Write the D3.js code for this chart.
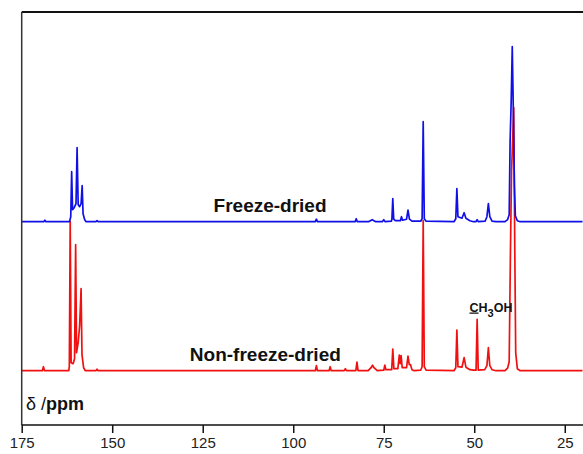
<!DOCTYPE html>
<html><head><meta charset="utf-8">
<script src="https://cdn.jsdelivr.net/npm/d3@7"></script>
<style>body{margin:0;background:#fff}svg{display:block}text{font-family:"Liberation Sans",Arial,sans-serif}</style>
</head><body><svg id="c" width="583" height="454"></svg>
<script>
// x: chemical shift (ppm); y: intensity (arbitrary units)
const xTicks = [175, 150, 125, 100, 75, 50, 25];
const xDomain = [175, 20.1];
const seriesNames = ["Freeze-dried", "Non-freeze-dried"];
const blueOffset = 149;
const freezeDried = [
 [176,0],[168.9,0],[168.6,1.5],[168.3,0],
 [161.8,0],[161.45,5],[161.2,50],[160.95,12],[160.5,14],[160.0,18],[159.7,74],[159.4,17],[159.0,15],[158.6,18],[158.3,36],[158.05,8],[157.6,2],[157.2,0],
 [154.5,0],[154.2,1],[153.9,0],
 [93.9,0],[93.6,2.5],[93.3,0],
 [82.9,0],[82.6,3],[82.3,0],
 [79.2,0],[78.2,2],[77.2,0],
 [75.4,0],[75,2],[74.6,0],
 [72.9,0.5],[72.75,2.5],[72.5,23],[72.25,2.5],[71.8,1],[70.4,1],[70.1,5],[69.8,1.5],[68.7,2.5],[68.3,11.5],[67.9,2.5],[67.2,0.5],
 [64.8,0.5],[64.4,3],[64.1,100],[63.8,3],[63.3,0.5],
 [55.6,0],[55.1,3],[54.8,33],[54.5,5],[53.4,3.5],[52.8,9],[52.3,3.5],[51.2,1],[50.2,0],
 [49.5,0],[49.2,2],[48.9,0],
 [47,0.5],[46.5,5],[46.1,18],[45.7,5],[45.1,0.5],[44,0],
 [41.5,0],[40.8,2],[40.35,7],[40.1,80],[39.8,120],[39.5,175],[39.2,110],[38.9,35],[38.65,6],[38.1,1],[37.3,0],
 [19,0]
];
const nonFreezeDried = [
 [176,0],[169.3,0],[169,4],[168.7,0],
 [162.0,0],[161.85,4],[161.6,149],[161.35,8],[160.8,7],[160.4,12],[160.1,126],[159.85,18],[159.4,28],[159.0,45],[158.6,82],[158.35,16],[157.9,3],[157.4,0],
 [154.5,0],[154.2,1.5],[153.9,0],
 [93.9,0],[93.6,5],[93.3,0],
 [90.1,0],[89.8,4],[89.5,0],
 [85.9,0],[85.6,2],[85.3,0],
 [82.7,0],[82.4,8.5],[82.1,0],
 [79.3,0],[78.5,3],[78.1,5.5],[77.7,3],[76.8,0],
 [75.0,0.5],[74.7,5.5],[74.4,1],
 [72.8,1],[72.5,21.7],[72.2,2],[71.1,2],[70.7,15.7],[70.45,7],[70.2,15],[69.9,3],[68.7,3],[68.3,14.7],[67.95,6],[67.6,6],[67.2,1],[66.6,0],
 [64.8,0.5],[64.4,4],[64.1,150],[63.8,4],[63.3,0.5],
 [55.6,0],[55.1,3],[54.8,40.7],[54.5,4],[53.4,3.5],[52.8,13],[52.3,3.5],[51.2,1],[50.2,0.5],
 [49.5,0.5],[49.2,51.4],[48.9,0.5],
 [47.1,1],[46.5,5],[46.1,23],[45.7,5],[45.1,1],[44,0],
 [41.5,0],[40.8,2.5],[40.35,9],[40.0,119],[39.7,200],[39.4,230],[39.1,263],[38.8,120],[38.55,18],[38.1,2],[37.3,0],
 [19,0]
];

const svg = d3.select("#c");
const L = 21.7, R = 582.5, T = 12, B = 425;
const x = d3.scaleLinear().domain(xDomain).range([L, R]);
const y = d3.scaleLinear().domain([0, 359]).range([370.7, 11.7]);

svg.append("defs").append("clipPath").attr("id","clip")
  .append("rect").attr("x",L).attr("y",T).attr("width",R-L).attr("height",B-T);

const g = svg.append("g").attr("clip-path","url(#clip)");
const lineRed = d3.line().x(d=>x(d[0])).y(d=>y(d[1]));
const lineBlue = d3.line().x(d=>x(d[0])).y(d=>y(d[1]+blueOffset));
g.append("path").datum(nonFreezeDried).attr("d",lineRed)
  .attr("fill","none").attr("stroke","#f01010").attr("stroke-width",1.7).attr("stroke-linejoin","round");
g.append("path").datum(freezeDried).attr("d",lineBlue)
  .attr("fill","none").attr("stroke","#1010e6").attr("stroke-width",1.7).attr("stroke-linejoin","round");

// frame
svg.append("line").attr("x1",L).attr("x2",583).attr("y1",T).attr("y2",T).attr("stroke","#111").attr("stroke-width",2);
svg.append("line").attr("x1",L).attr("x2",L).attr("y1",T).attr("y2",B).attr("stroke","#333").attr("stroke-width",1.5);

// x axis
const ax = svg.append("g").attr("transform",`translate(0,${B})`)
  .call(d3.axisBottom(x).tickValues(xTicks).tickSize(8).tickPadding(4).tickSizeOuter(0));
ax.select(".domain").attr("stroke","#111").attr("stroke-width",1.7).attr("d",`M${L},0H583`);
ax.selectAll(".tick line").attr("stroke","#111").attr("stroke-width",1.5);
ax.selectAll(".tick text").attr("font-size",15).attr("fill","#222").attr("font-family","Liberation Sans, Arial, sans-serif");

// labels (positions in ppm)
svg.append("text").attr("x",x(106.4)).attr("y",211.5).attr("text-anchor","middle")
  .attr("font-size",19).attr("font-weight","bold").attr("fill","#111").text(seriesNames[0]);
svg.append("text").attr("x",x(107.7)).attr("y",360.5).attr("text-anchor","middle")
  .attr("font-size",19).attr("font-weight","bold").attr("fill","#111").text(seriesNames[1]);

const ch = svg.append("text").attr("x",x(51.3)).attr("y",311.5).attr("font-size",12.5).attr("font-weight","bold").attr("fill","#111");
ch.append("tspan").attr("text-decoration","underline").text("C");
ch.append("tspan").text("H");
ch.append("tspan").attr("font-size",11).attr("dy",5).text("3");
ch.append("tspan").attr("dy",-5).text("OH");

const dl = svg.append("text").attr("x",26).attr("y",410).attr("font-size",18).attr("fill","#111");
dl.append("tspan").text("δ /");
dl.append("tspan").attr("font-weight","bold").text("ppm");
</script></body></html>
